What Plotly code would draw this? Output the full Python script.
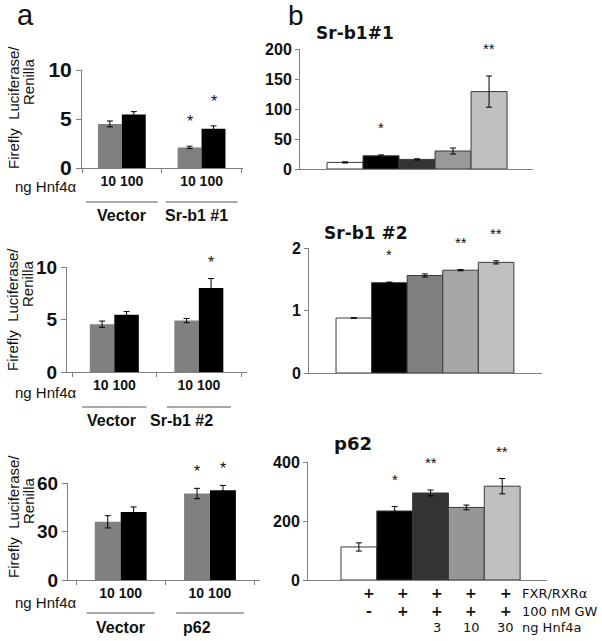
import plotly.graph_objects as go

# ---------------- data ----------------
# Panel a (ng Hnf4a: 10 = gray, 100 = black)
a1_groups = ["Vector", "Sr-b1 #1"]
a1_10 = [4.5, 2.1]
a1_10_err = [0.3, 0.12]
a1_100 = [5.45, 4.0]
a1_100_err = [0.3, 0.3]
a1_star10 = ["", "*"]
a1_star100 = ["", "*"]

a2_groups = ["Vector", "Sr-b1 #2"]
a2_10 = [4.55, 4.9]
a2_10_err = [0.3, 0.2]
a2_100 = [5.45, 8.0]
a2_100_err = [0.3, 0.9]
a2_star10 = ["", ""]
a2_star100 = ["", "*"]

a3_groups = ["Vector", "p62"]
a3_10 = [36, 53.5]
a3_10_err = [3.8, 3.2]
a3_100 = [42, 55.5]
a3_100_err = [3.2, 3.0]
a3_star10 = ["", "*"]
a3_star100 = ["", "*"]

a_dose_labels = ["10 100", "10 100"]
a1_yticks = [0, 5, 10]
a2_yticks = [0, 5, 10]
a3_yticks = [0, 30, 60]

# Panel b (five conditions)
b_conditions = ["FXR/RXRa", "FXR/RXRa+GW", "+GW+3ng", "+GW+10ng", "+GW+30ng"]
b1_vals = [11, 22, 16, 30, 129]
b1_err = [1, 1.5, 1, 5, 26]
b1_stars = ["", "*", "", "", "**"]
b2_vals = [0.88, 1.445, 1.56, 1.645, 1.77]
b2_err = [0.005, 0.01, 0.025, 0.01, 0.025]
b2_stars = ["", "*", "", "**", "**"]
b3_vals = [112, 234, 295, 246, 318]
b3_err = [14, 15, 10, 8, 26]
b3_stars = ["", "*", "**", "", "**"]
b1_yticks = [0, 50, 100, 150, 200]
b2_yticks = [0, 1, 2]
b3_yticks = [0, 200, 400]

row_fxr = ["+", "+", "+", "+", "+"]
row_gw = ["-", "+", "+", "+", "+"]
row_hnf = ["", "", "3", "10", "30"]
row_names = ["FXR/RXRα", "100 nM GW", "ng Hnf4a"]

# ---------------- styling ----------------
W, H = 602, 641
GRAY_A = "#808080"
AXIS_COL = "#808080"
b1_colors = ["#ffffff", "#000000", "#333333", "#999999", "#c0c0c0"]
b2_colors = ["#ffffff", "#000000", "#808080", "#a6a6a6", "#c0c0c0"]
b3_colors = ["#ffffff", "#000000", "#333333", "#969696", "#c0c0c0"]
ARIAL = "Liberation Sans, Arial, sans-serif"
TAHOMA = "DejaVu Sans, Verdana, sans-serif"


def xd(px):
    return px / W


def yd(py):
    return 1 - py / H


fig = go.Figure()
annotations = []
shapes = []


def text(t, x, y, size, bold=False, family=ARIAL, xanchor="center", yanchor="middle",
         xref="paper", yref="paper", angle=0, yshift=0, color="#111"):
    annotations.append(dict(text=t, x=x, y=y, xref=xref, yref=yref, showarrow=False,
                            xanchor=xanchor, yanchor=yanchor, textangle=angle, yshift=yshift,
                            font=dict(family=family, size=size, color=color,
                                      weight="bold" if bold else "normal")))


def add_a_panel(n, groups, v10, e10, v100, e100, s10, s100, yticks, ydom, xdom, xrange,
                bw, tickfs, star_shift):
    xa, ya = f"x{n}", f"y{n}"
    err = dict(type="data", color="black", thickness=1, width=3)
    fig.add_bar(x=groups, y=v10, width=bw, offset=-bw, xaxis=xa, yaxis=ya,
                marker=dict(color=GRAY_A, line=dict(width=0)),
                error_y=dict(err, array=e10))
    fig.add_bar(x=groups, y=v100, width=bw, offset=0, xaxis=xa, yaxis=ya,
                marker=dict(color="#000000", line=dict(width=0)),
                error_y=dict(err, array=e100))
    for i in range(len(groups)):
        if s10[i]:
            text(s10[i], i - bw / 2, v10[i] + e10[i], 16, xref=xa, yref=ya,
                 yanchor="bottom", yshift=star_shift)
        if s100[i]:
            text(s100[i], i + bw / 2, v100[i] + e100[i], 16, xref=xa, yref=ya,
                 yanchor="bottom", yshift=star_shift)
    fig.update_layout({
        f"xaxis{n}": dict(domain=xdom, anchor=ya, type="category", range=xrange,
                          showline=True, linecolor=AXIS_COL, linewidth=1, automargin=False,
                          ticks="outside", tickson="boundaries", ticklen=4, tickcolor=AXIS_COL,
                          tickmode="array", tickvals=groups, ticktext=a_dose_labels,
                          tickfont=dict(family=ARIAL, size=14, color="#111", weight="bold"),
                          showgrid=False, zeroline=False),
        f"yaxis{n}": dict(domain=ydom, anchor=xa, range=[0, yticks[-1]], tickvals=yticks,
                          showline=True, linecolor=AXIS_COL, linewidth=1, automargin=False,
                          ticks="outside", ticklen=5, tickcolor=AXIS_COL,
                          tickfont=dict(family=ARIAL, size=tickfs, color="#111", weight="bold"),
                          showgrid=False, zeroline=False),
    })


def add_b_panel(n, vals, errs, colors, stars, yticks, ydom, xdom, xrange, ymax):
    xa, ya = f"x{n}", f"y{n}"
    fig.add_bar(x=b_conditions, y=vals, width=1, xaxis=xa, yaxis=ya,
                marker=dict(color=colors, line=dict(color="#3a3a3a", width=1)),
                error_y=dict(type="data", array=errs, color="black", thickness=1, width=3))
    for i, s in enumerate(stars):
        if s:
            text(s, i, vals[i] + errs[i], 15, xref=xa, yref=ya, yanchor="bottom", yshift=17)
    fig.update_layout({
        f"xaxis{n}": dict(domain=xdom, anchor=ya, type="category", range=xrange,
                          showline=True, linecolor=AXIS_COL, linewidth=1, automargin=False,
                          showticklabels=False, ticks="", showgrid=False, zeroline=False),
        f"yaxis{n}": dict(domain=ydom, anchor=xa, range=[0, ymax], tickvals=yticks,
                          showline=True, linecolor=AXIS_COL, linewidth=1, automargin=False,
                          ticks="outside", ticklen=4, tickcolor=AXIS_COL,
                          tickfont=dict(family=ARIAL, size=16, color="#111", weight="bold"),
                          showgrid=False, zeroline=False),
    })


# Panel a
add_a_panel(1, a1_groups, a1_10, a1_10_err, a1_100, a1_100_err, a1_star10, a1_star100,
            a1_yticks, [yd(168), yd(70)], [xd(82), xd(243)], [-0.5, 1.52], 0.3, 21, 14)
add_a_panel(3, a2_groups, a2_10, a2_10_err, a2_100, a2_100_err, a2_star10, a2_star100,
            a2_yticks, [yd(372), yd(267)], [xd(67), xd(247)], [-0.56, 1.57], 0.29, 19, 6)
add_a_panel(5, a3_groups, a3_10, a3_10_err, a3_100, a3_100_err, a3_star10, a3_star100,
            a3_yticks, [yd(580), yd(483)], [xd(68), xd(260)], [-0.59, 1.56], 0.29, 19, 6)

# Panel b
add_b_panel(2, b1_vals, b1_err, b1_colors, b1_stars, b1_yticks,
            [yd(169), yd(49)], [xd(300), xd(533)], [-1.25, 5.22], 200)
add_b_panel(4, b2_vals, b2_err, b2_colors, b2_stars, b2_yticks,
            [yd(373), yd(248)], [xd(309), xd(542)], [-1.26, 5.29], 2)
add_b_panel(6, b3_vals, b3_err, b3_colors, b3_stars, b3_yticks,
            [yd(580), yd(462)], [xd(308), xd(547)], [-1.42, 5.25], 400)

# panel letters
text("a", xd(25), yd(15), 29)
text("b", xd(296), yd(15), 28)

# y titles of panel a
for (c1, c2) in [(108, 82), (310, 284), (517, 501)]:
    text("Firefly  Luciferase/", xd(13), yd(c1), 15, angle=-90)
    text("Renilla", xd(28), yd(c2), 15, angle=-90)

# "ng Hnf4α" row labels
for yy in [187, 392, 602]:
    text("ng Hnf4α", xd(46), yd(yy), 15)

# group underlines and names for panel a
for n, groups, yline, ylab, half, labx in [
    (1, a1_groups, 202, 215, 0.45, [0.0, 0.94]),
    (3, a2_groups, 407, 420, 0.38, [-0.03, 0.8]),
    (5, a3_groups, 613, 627, 0.38, [0.0, 0.86]),
]:
    for i, g in enumerate(groups):
        shapes.append(dict(type="line", xref=f"x{n}", yref="paper", x0=i - half, x1=i + half,
                           y0=yd(yline), y1=yd(yline), line=dict(color="#555", width=1)))
        text(g, labx[i], yd(ylab), 16, bold=True, xref=f"x{n}")

# panel b titles
text("Sr-b1#1", xd(314), yd(33), 17, bold=True, family=TAHOMA, xanchor="left")
text("Sr-b1 #2", xd(322), yd(233), 17, bold=True, family=TAHOMA, xanchor="left")
text("p62", xd(332), yd(443), 18, bold=True, family=TAHOMA, xanchor="left")

# condition table under b bottom (marks sit slightly right of bar centres)
table_shift = [0.28, 0.22, 0.19, 0.14, 0.1]
for row, yy in [(row_fxr, 593), (row_gw, 611), (row_hnf, 627)]:
    for i, s in enumerate(row):
        if s:
            text(s, i + table_shift[i], yd(yy), 14 if s in "+-" else 13, bold=s in "+-",
                 family=TAHOMA, xref="x6")
for name, yy in zip(row_names, [593, 611, 627]):
    text(name, xd(520), yd(yy), 13, family=TAHOMA, xanchor="left")

fig.update_layout(
    width=W, height=H, margin=dict(l=0, r=0, t=0, b=0, autoexpand=False),
    paper_bgcolor="white", plot_bgcolor="white", showlegend=False,
    barmode="overlay", annotations=annotations, shapes=shapes,
)

fig.write_html("out.html", config={"displayModeBar": False},
               post_script="document.body.style.margin='0';")
